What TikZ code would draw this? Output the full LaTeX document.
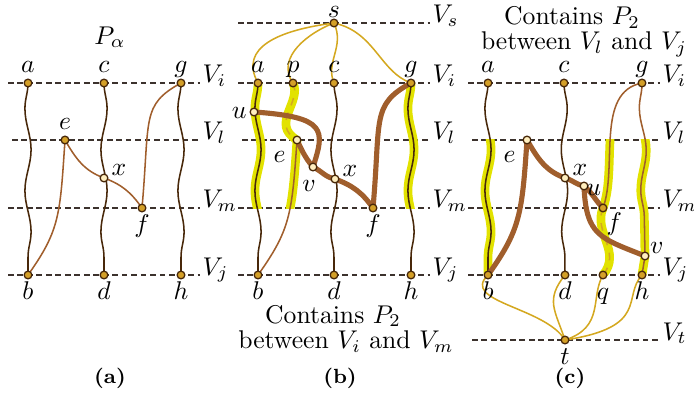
\documentclass[tikz,border=0pt]{standalone}
\usetikzlibrary{decorations.pathmorphing}
\definecolor{cstrand}{RGB}{72,40,10}
\definecolor{croute}{RGB}{160,94,44}
\definecolor{cflow}{RGB}{212,168,32}
\definecolor{chl}{RGB}{226,226,0}
\definecolor{cvgold}{RGB}{212,160,40}
\definecolor{cvcream}{RGB}{255,238,190}
\definecolor{clevel}{RGB}{60,50,45}
\tikzset{
  level/.style={draw=clevel, line width=0.5pt, dash pattern=on 2.2pt off 1.5pt},
  vlab/.style={anchor=base west, inner sep=0.8pt},
  strand/.style={draw=cstrand, line width=0.6pt, decorate,
    decoration={snake, amplitude=1.2pt, segment length=32pt}},
  strand flip/.style={strand, decoration={amplitude=-1.2pt}},
  route/.style={draw=croute, line width=0.6pt},
  route heavy/.style={draw=croute, line width=2pt, line cap=round, line join=round},
  flow/.style={draw=cflow, line width=0.6pt},
  hl/.style={draw=chl, line width=3.4pt},
  vtx/.style={circle, draw=cstrand, fill=cvgold, line width=0.5pt, inner sep=0pt, minimum size=3pt},
  cross vtx/.style={vtx, fill=cvcream},
  caption/.style={font=\footnotesize\bfseries},
}

\begin{document}
\begin{tikzpicture}[x=0.39pt, y=0.39pt,
    every label/.style={inner sep=1pt, text height=1.5ex, text depth=.25ex}]
  \useasboundingbox (0,0) rectangle (694,392);

  % (a) the path P_alpha
  \begin{scope}[name prefix=pa-]
    \foreach \nm/\yy/\xs in {i/309/8, l/252/12, m/184/8, j/117/8}{
      \coordinate (L\nm) at (\xs,\yy); \coordinate (R\nm) at (200,\yy);
      \draw[level] (L\nm) -- (R\nm) node[vlab] (V\nm) {$V_\nm$};
    }
    \coordinate (a) at (28,309);  \coordinate (c) at (104,309); \coordinate (g) at (181,309);
    \coordinate (e) at (65,252);  \coordinate (x) at (104,214); \coordinate (f) at (142,184);
    \coordinate (b) at (28,117);  \coordinate (d) at (104,117); \coordinate (h) at (181,117);
    \draw[strand flip] (a) -- (b);
    \draw[strand] (c) -- (d);
    \draw[strand flip] (g) -- (h);
    \draw[route] (b) .. controls +(32,45) and +(-5,-75) .. (e)
                 to[out=-60,in=160] (x) to[out=-20,in=125] (f)
                 .. controls +(8,90) and +(-40,-22) .. (g);
    \foreach \v/\w in {a/above, c/above, g/above, e/above, b/below, d/below, h/below, f/below}
      \node[vtx, label=\w:$\v$] (\v) at (\v) {};
    \node[cross vtx, label={[yshift=3.5pt]right:$x$}] (x) at (x) {};
    \node[anchor=base] (title) at (110,348) {$P_\alpha$};
    \node[caption] (cap) at (110,14) {(a)};
  \end{scope}

  % (b) P_2 between V_i and V_m
  \begin{scope}[shift={(230,0)}, name prefix=pb-]
    \foreach \nm/\yy/\xs in {s/369/8, i/309/8, l/252/12, m/184/8, j/117/8}{
      \coordinate (L\nm) at (\xs,\yy); \coordinate (R\nm) at (200,\yy);
      \draw[level] (L\nm) -- (R\nm) node[vlab] (V\nm) {$V_\nm$};
    }
    \coordinate (s) at (104,369);
    \coordinate (a) at (28,309);  \coordinate (p) at (63,309);
    \coordinate (c) at (104,309); \coordinate (g) at (181,309);
    \coordinate (u) at (24,280);  \coordinate (e) at (67,252);
    \coordinate (v) at (83,225);  \coordinate (x) at (105,213); \coordinate (f) at (143,184);
    \coordinate (b) at (28,117);  \coordinate (d) at (104,117); \coordinate (h) at (181,117);
    \begin{scope}
      \clip (0,184) rectangle (200,309);
      \draw[strand flip, hl] (a) -- (b);
      \draw[strand flip, hl] (g) -- (h);
      \draw[hl] (p) .. controls +(9,-19) and +(-27,16) .. (e);
      \draw[hl] (b) .. controls +(32,45) and +(-5,-75) .. (e);
    \end{scope}
    \draw[flow] (s) .. controls +(-54,-7) and +(-20,36) .. (a);
    \draw[flow] (s) .. controls +(-24,-9) and +(-18,26) .. (p);
    \draw[flow] (s) .. controls +(11,-24) and +(-9,21) .. (c);
    \draw[flow] (s) .. controls +(41,-9) and +(-31,11) .. (g);
    \draw[strand flip] (a) -- (b);
    \draw[strand] (c) -- (d);
    \draw[strand flip] (g) -- (h);
    \draw[route] (b) .. controls +(32,45) and +(-5,-75) .. (e);
    \draw[flow, dashed] (p) .. controls +(9,-19) and +(-27,16) .. (e);
    \draw[route heavy] (u) .. controls +(73,-5) and +(12,37) .. (v);
    \draw[route heavy] (e) to[out=-65,in=130] (v) to[out=-25,in=170] (x)
                       to[out=-20,in=125] (f) .. controls +(8,90) and +(-40,-22) .. (g);
    \foreach \v/\w in {a/above, p/above, c/above, g/above, f/below, b/below, d/below, h/below}
      \node[vtx, label=\w:$\v$] (\v) at (\v) {};
    \node[vtx, label={[text height=1ex, inner sep=0pt, yshift=-0.8pt]above:$s$}] (s) at (s) {};
    \node[cross vtx, label=left:$u$] (u) at (u) {};
    \node[cross vtx, label={[xshift=-2pt]below left:$e$}] (e) at (e) {};
    \node[cross vtx, label={[xshift=-1.5pt]below:$v$}] (v) at (v) {};
    \node[cross vtx, label={[yshift=3.5pt]right:$x$}] (x) at (x) {};
    \node[anchor=base] (note1) at (103,69) {Contains $P_2$};
    \node[anchor=base] (note2) at (116,43) {between $V_i$ and $V_m$};
    \node[caption] (cap) at (110,14) {(b)};
  \end{scope}

  % (c) P_2 between V_l and V_j
  \begin{scope}[shift={(460,0)}, name prefix=pc-]
    \foreach \nm/\yy/\xs in {i/309/8, l/252/12, m/184/8, j/117/8, t/52/12}{
      \coordinate (L\nm) at (\xs,\yy); \coordinate (R\nm) at (200,\yy);
      \draw[level] (L\nm) -- (R\nm) node[vlab] (V\nm) {$V_\nm$};
    }
    \coordinate (a) at (28,309);  \coordinate (c) at (104,309); \coordinate (g) at (182,309);
    \coordinate (e) at (67,252);  \coordinate (x) at (105,214); \coordinate (u) at (124,206);
    \coordinate (f) at (143,184); \coordinate (v) at (185,136);
    \coordinate (b) at (28,117);  \coordinate (d) at (105,117);
    \coordinate (q) at (143,117); \coordinate (h) at (182,117);
    \coordinate (t) at (105,52);
    \begin{scope}
      \clip (0,117) rectangle (200,252);
      \draw[strand flip, hl] (a) -- (b);
      \draw[hl] (g) .. controls +(-47,-9) and +(15,41) .. (f)
                    .. controls +(-10,-24) and +(19,23) .. (q);
      \draw[strand flip, hl] (g) -- (v);
      \draw[hl] (v) -- (h);
    \end{scope}
    \draw[flow] (b) .. controls +(-28,-27) and +(-20,33) .. (t);
    \draw[flow] (d) .. controls +(-20,-25) and +(-10,30) .. (t);
    \draw[flow] (q) .. controls +(-13,-22) and +(40,13) .. (t);
    \draw[flow] (h) .. controls +(-20,-22) and +(85,13) .. (t);
    \draw[strand flip] (a) -- (b);
    \draw[strand] (c) -- (d);
    \draw[route] (g) .. controls +(-47,-9) and +(15,41) .. (f);
    \draw[strand flip, route] (g) -- (v);
    \draw[route] (v) -- (h);
    \draw[flow, dashed] (f) .. controls +(-10,-24) and +(19,23) .. (q);
    \draw[route heavy] (b) .. controls +(32,45) and +(-5,-75) .. (e);
    \draw[route heavy] (e) to[out=-60,in=160] (x) to[out=-15,in=170] (u)
                       to[out=-40,in=135] (f);
    \draw[route heavy] (u) .. controls +(2,-50) and +(-45,18) .. (v);
    \foreach \v/\w in {a/above, c/above, g/above, b/below, d/below, q/below, h/below, t/below}
      \node[vtx, label=\w:$\v$] (\v) at (\v) {};
    \node[vtx, label={[xshift=-1pt]below right:$f$}] (f) at (f) {};
    \node[cross vtx, label={[xshift=-2pt]below left:$e$}] (e) at (e) {};
    \node[cross vtx, label={[yshift=3.5pt]right:$x$}] (x) at (x) {};
    \node[cross vtx, label={[yshift=-1pt,xshift=-2pt]right:$u$}] (u) at (u) {};
    \node[cross vtx, label={[yshift=3.5pt,xshift=-1pt]right:$v$}] (v) at (v) {};
    \node[anchor=base] (note1) at (112,367) {Contains $P_2$};
    \node[anchor=base] (note2) at (124,342) {between $V_l$ and $V_j$};
    \node[caption] (cap) at (110,14) {(c)};
  \end{scope}
\end{tikzpicture}
\end{document}
